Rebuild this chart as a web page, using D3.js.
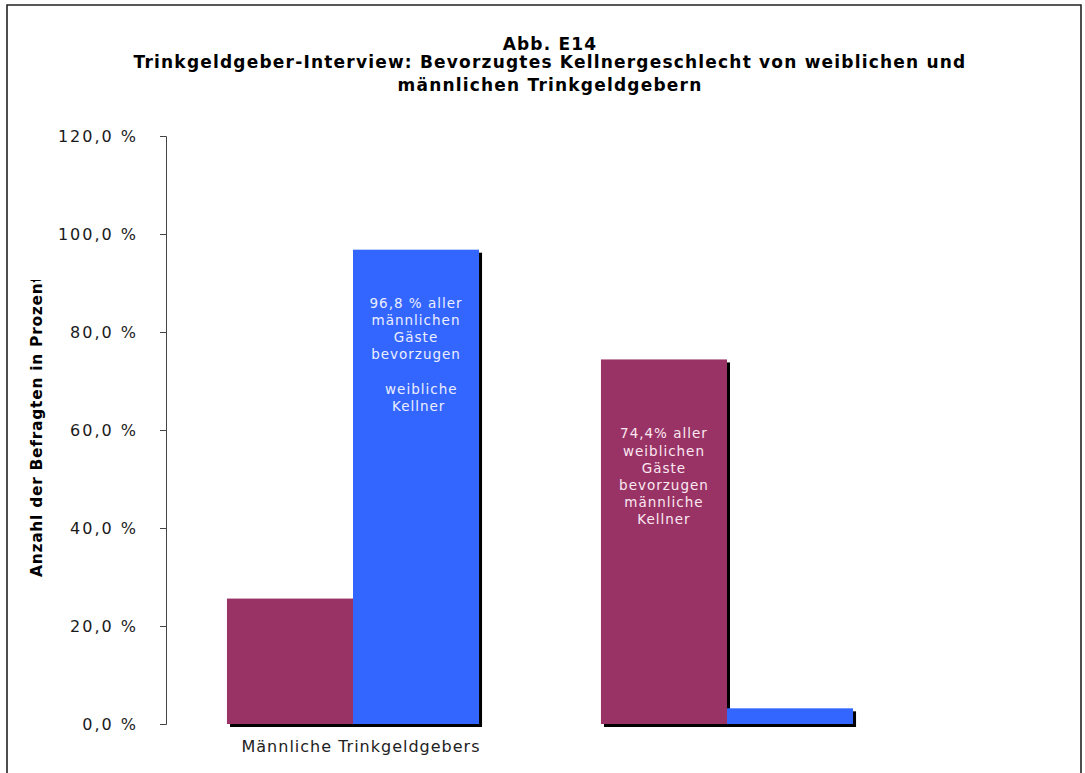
<!DOCTYPE html>
<html>
<head>
<meta charset="utf-8">
<script src="https://cdn.jsdelivr.net/npm/d3@7"></script>
<style>
  html, body { margin: 0; padding: 0; background: #fff; }
  svg { display: block; }
  text { font-family: "DejaVu Sans", Verdana, sans-serif; }
</style>
</head>
<body>
<svg id="chart" width="1085" height="773"></svg>
<script>
// Guest groups (second group has no axis label)
const groupKeys = ["maennlich", "weiblich"];
const groupLabels = ["Männliche Trinkgeldgebers", ""];

// Share of guests preferring a male / female waiter, in percent
const seriesNames = ["männliche Kellner", "weibliche Kellner"];
const maleWaiter = [25.6, 74.4];
const femaleWaiter = [96.8, 3.2];
const seriesColors = ["#993366", "#3366FF"];

// Y axis ticks
const yTicks = [0, 20, 40, 60, 80, 100, 120];

const titleLines = [
  "Abb. E14",
  "Trinkgeldgeber-Interview: Bevorzugtes Kellnergeschlecht von weiblichen und",
  "männlichen Trinkgeldgebern"
];
const yTitle = "Anzahl der Befragten in Prozent";

// Annotation text inside the tall bars
const notes = [
  { group: 0, series: 1, lines: ["96,8 % aller", "männlichen", "Gäste", "bevorzugen", "", "\u00a0\u00a0weibliche", "\u00a0Kellner"], color: "#eceeff" },
  { group: 1, series: 0, lines: ["74,4% aller", "weiblichen", "Gäste", "bevorzugen", "männliche", "Kellner"], color: "#fbe8f1" }
];

const svg = d3.select("#chart");
const W = 1085, H = 773;

// outer frame
svg.append("path")
  .attr("d", `M7,${H} V5 H1081 V${H}`)
  .attr("fill", "none")
  .attr("stroke", "#222")
  .attr("stroke-width", 1.6);

const plot = { left: 166, right: 914, top: 136, bottom: 724 };

const x = d3.scaleBand()
  .domain(groupKeys)
  .range([plot.left, plot.right])
  .paddingInner(0.326)
  .paddingOuter(0.163);

const xs = d3.scaleBand()
  .domain(seriesNames)
  .range([0, x.bandwidth()]);

const y = d3.scaleLinear().domain([0, 120]).range([plot.bottom, plot.top]);

// title
const title = svg.append("text")
  .attr("text-anchor", "middle")
  .attr("font-weight", "bold")
  .attr("font-size", 17)
  .attr("letter-spacing", 1.2)
  .attr("fill", "#000");
titleLines.forEach((t, i) => {
  title.append("tspan")
    .attr("x", 550)
    .attr("y", [50, 68, 91][i])
    .text(t);
});

// y axis
const yAxis = d3.axisLeft(y)
  .tickValues(yTicks)
  .tickSize(6)
  .tickPadding(22)
  .tickFormat(d => d3.format(".1f")(d).replace(".", ",") + " %");

const gy = svg.append("g")
  .attr("transform", `translate(${plot.left},0)`)
  .call(yAxis);
gy.select(".domain").attr("stroke", "#444").attr("stroke-width", 1);
gy.selectAll(".tick line").attr("stroke", "#444");
gy.selectAll(".tick text")
  .attr("font-family", "DejaVu Sans, Verdana, sans-serif")
  .attr("font-size", 16)
  .attr("letter-spacing", 2)
  .attr("fill", "#1a1a1a");

// y axis title, clipped at the top
svg.append("clipPath").attr("id", "ytclip")
  .append("rect").attr("x", 0).attr("y", 280).attr("width", 80).attr("height", 400);
svg.append("g")
  .attr("clip-path", "url(#ytclip)")
  .append("text")
  .attr("transform", "translate(42,577) rotate(-90)")
  .attr("font-weight", "bold")
  .attr("font-size", 15.5)
  .attr("letter-spacing", 0.7)
  .attr("fill", "#000")
  .text(yTitle);

// bar data
const bars = [];
groupKeys.forEach((g, gi) => {
  [maleWaiter, femaleWaiter].forEach((arr, si) => {
    bars.push({ g, gi, s: seriesNames[si], si, v: arr[gi] });
  });
});

// drop shadows first, then the bars on top
svg.append("g").selectAll("rect")
  .data(bars)
  .join("rect")
  .attr("x", d => x(d.g) + xs(d.s) + 3)
  .attr("y", d => y(d.v) + 3)
  .attr("width", xs.bandwidth())
  .attr("height", d => y(0) - y(d.v))
  .attr("fill", "#000");

svg.append("g").selectAll("rect")
  .data(bars)
  .join("rect")
  .attr("x", d => x(d.g) + xs(d.s))
  .attr("y", d => y(d.v))
  .attr("width", xs.bandwidth())
  .attr("height", d => y(0) - y(d.v))
  .attr("fill", d => seriesColors[d.si]);

// category labels
svg.append("g").selectAll("text")
  .data(groupKeys)
  .join("text")
  .attr("x", d => x(d) + x.bandwidth() / 2 + 8)
  .attr("y", 752)
  .attr("text-anchor", "middle")
  .attr("font-size", 16)
  .attr("letter-spacing", 1)
  .attr("fill", "#222")
  .text((d, i) => groupLabels[i]);

// annotations inside bars
notes.forEach(n => {
  const arr = n.series === 0 ? maleWaiter : femaleWaiter;
  const cx = x(groupKeys[n.group]) + xs(seriesNames[n.series]) + xs.bandwidth() / 2;
  const top = y(arr[n.group]);
  const t = svg.append("text")
    .attr("text-anchor", "middle")
    .attr("font-size", 13.5)
    .attr("letter-spacing", 1)
    .attr("fill", n.color)
    .style("white-space", "pre");
  n.lines.forEach((line, i) => {
    t.append("tspan")
      .attr("x", cx)
      .attr("y", top + 58 + i * 17.2 + (n.series === 0 ? 21 : 0))
      .text(line);
  });
});
</script>
</body>
</html>
